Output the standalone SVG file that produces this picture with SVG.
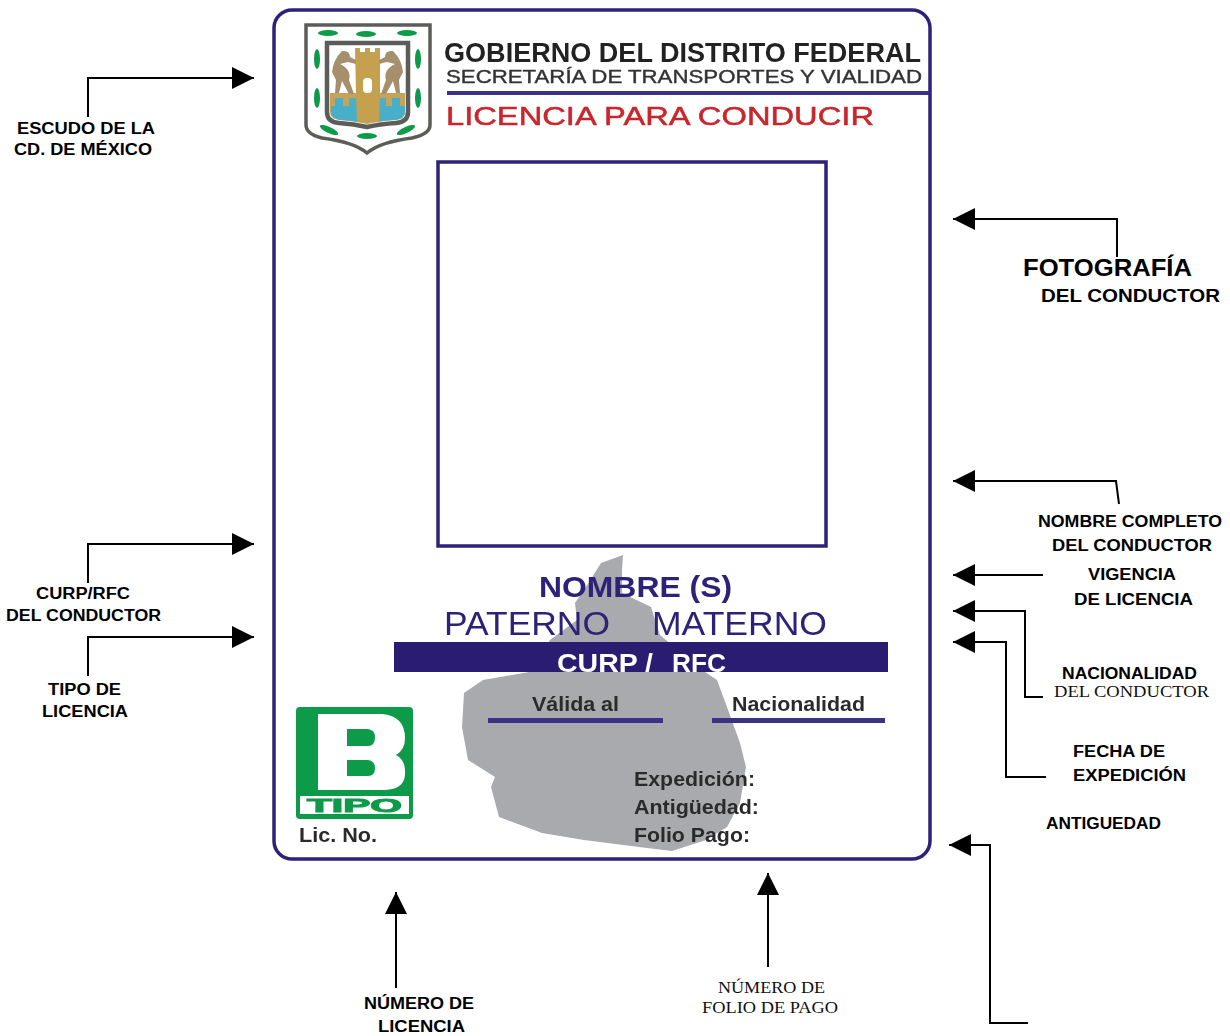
<svg xmlns="http://www.w3.org/2000/svg" width="1230" height="1036" viewBox="0 0 1230 1036">
<style>
.b{font-family:"Liberation Sans",Arial,sans-serif;font-weight:700;fill:#000;font-size:16px}
.s{font-family:"Liberation Serif","Times New Roman",serif;fill:#111;font-size:16px}
.c{stroke:#000;stroke-width:2;fill:none}
.n{fill:#2e2378;font-family:"Liberation Sans",Arial,sans-serif}
.k{fill:#2b2b2b;font-family:"Liberation Sans",Arial,sans-serif;font-weight:700;font-size:20px}
.g{fill:#0b9a4a}
.l{fill:#a58f6c}
</style>
<defs>
<marker id="a" markerUnits="userSpaceOnUse" markerWidth="24" markerHeight="24" refX="22" refY="12" orient="auto"><path d="M0 1L22 12L0 23Z" fill="#000"/></marker>
<filter id="bl" x="-2%" y="-2%" width="104%" height="104%"><feGaussianBlur stdDeviation="0.7"/></filter>
<clipPath id="cc"><rect x="394" y="642" width="494" height="30"/></clipPath>
</defs>
<rect width="1230" height="1036" fill="#fff"/>
<g id="card" filter="url(#bl)">
<path id="map" d="M623 555L601 563L586 587L575 603L577 620L550 640L529 672L483 680L464 693L462 727L468 760L495 777L491 787L499 817L542 833L584 840L639 847L672 851L706 840L727 827L740 803L746 767L740 743L727 707L717 680L702 670L660 635L651 607L622 593L622 570Z" fill="#a9aaad"/>
<rect x="274" y="10" width="656" height="849" rx="18" fill="none" stroke="#2e2378" stroke-width="3.5"/>
<g id="logo">
<path d="M306 25H430V125Q430 134 412 138Q380 142 367 153Q354 142 322 138Q306 134 306 125Z" fill="#fff" stroke="#5c5c58" stroke-width="3.5"/>
<path d="M327 43H408V112Q408 122 396 123Q380 124 367 127Q354 124 339 123Q327 122 327 112Z" fill="#fff" stroke="#5c5c58" stroke-width="4.500"/>
<path d="M330 93H405V112Q405 119 395 120Q380 121 367 124Q354 121 340 120Q330 119 330 112Z" fill="#c5a35a"/>
<path d="M331 106H335V98H343V106H349V98H358V122Q348 120 340 120Q331 118 331 112ZM377 98H386V106H392V98H400V106H405V112Q405 119 395 120Q385 120 377 122Z" fill="#46b0c8"/>
<path d="M355 48H360V52H365V48H370V52H375V48H380V93L379 122H357L356 93Z" fill="#c5a14f"/>
<rect x="363" y="78" width="9" height="15" rx="4" fill="#fff"/>
<path class="l" d="M342 51Q350 50 350 57L356 60V64L348 62L340 64Q352 70 349 80L354 94H349L342 81L339 93H335L336 80L332 72Q333 60 342 51Z"/>
<path class="l" d="M393 51Q385 50 385 57L379 60V64L387 62L395 64Q383 70 386 80L381 94H386L393 81L396 93H400L399 80L403 72Q402 60 393 51Z"/>
<g class="g">
<ellipse cx="328" cy="33" rx="10" ry="3"/><ellipse cx="366" cy="34" rx="10" ry="3"/><ellipse cx="407" cy="33" rx="10" ry="3"/>
<ellipse cx="317" cy="59" rx="3" ry="10"/><ellipse cx="418" cy="59" rx="3" ry="10"/><ellipse cx="317" cy="98" rx="3" ry="10"/><ellipse cx="418" cy="98" rx="3" ry="10"/>
<ellipse cx="329" cy="130" rx="10" ry="3" transform="rotate(25 329 130)"/><ellipse cx="367" cy="136" rx="10" ry="3"/><ellipse cx="406" cy="130" rx="10" ry="3" transform="rotate(-25 406 130)"/>
</g>
</g>
<text x="444" y="62" font-family="Liberation Sans,Arial,sans-serif" font-weight="700" font-size="27.500" textLength="477" lengthAdjust="spacingAndGlyphs" fill="#222">GOBIERNO DEL DISTRITO FEDERAL</text>
<text x="446" y="83" font-family="Liberation Sans,Arial,sans-serif" font-size="19" textLength="476" lengthAdjust="spacingAndGlyphs" fill="#333" stroke="#333" stroke-width=".4">SECRETARÍA DE TRANSPORTES Y VIALIDAD</text>
<rect x="447" y="91" width="482" height="4" fill="#3a3085"/>
<text x="446" y="125" font-family="Liberation Sans,Arial,sans-serif" font-size="26" textLength="428" lengthAdjust="spacingAndGlyphs" fill="#c8262c" stroke="#c8262c" stroke-width=".5">LICENCIA PARA CONDUCIR</text>
<rect id="photo" x="438" y="162" width="388" height="384" fill="none" stroke="#2e2378" stroke-width="3.500"/>
<text x="539" y="597" class="n" font-size="30" font-weight="700" textLength="193" lengthAdjust="spacingAndGlyphs">NOMBRE (S)</text>
<text x="444" y="635" class="n" font-size="34" textLength="166" lengthAdjust="spacingAndGlyphs">PATERNO</text>
<text x="652" y="635" class="n" font-size="34" textLength="175" lengthAdjust="spacingAndGlyphs">MATERNO</text>
<rect x="394" y="642" width="494" height="30" fill="#2b1f6f"/>
<g clip-path="url(#cc)"><text x="557" y="672" font-family="Liberation Sans,Arial,sans-serif" font-weight="700" font-size="25" fill="#fff" textLength="96" lengthAdjust="spacingAndGlyphs">CURP /</text><text x="672" y="672" font-family="Liberation Sans,Arial,sans-serif" font-weight="700" font-size="25" fill="#fff" textLength="54" lengthAdjust="spacingAndGlyphs">RFC</text></g>
<text x="532" y="711" class="k" textLength="87" lengthAdjust="spacingAndGlyphs">Válida al</text>
<text x="732" y="711" class="k" textLength="133" lengthAdjust="spacingAndGlyphs">Nacionalidad</text>
<rect x="488" y="718" width="175" height="5" fill="#3a3085"/>
<rect x="712" y="718" width="173" height="5" fill="#3a3085"/>
<text x="634" y="786" class="k" textLength="121" lengthAdjust="spacingAndGlyphs">Expedición:</text>
<text x="634" y="814" class="k" textLength="125" lengthAdjust="spacingAndGlyphs">Antigüedad:</text>
<text x="634" y="842" class="k" textLength="116" lengthAdjust="spacingAndGlyphs">Folio Pago:</text>
<g id="tipo">
<rect x="296" y="707" width="117" height="112" rx="4" fill="#0b9a4a"/>
<path d="M318 714H382Q405 716 405 738Q405 750 396 755Q406 760 405 775Q404 789 385 790H318Z" fill="#fff"/>
<path d="M347 729H368Q375 730 375 737Q375 746 368 746H347ZM347 760H368Q375 761 375 768Q375 776 368 776H347Z" fill="#0b9a4a"/>
<rect x="300" y="796" width="109" height="18" fill="#fff"/>
<text x="307" y="812" font-family="Liberation Sans,Arial,sans-serif" font-weight="700" font-size="18" textLength="95" lengthAdjust="spacingAndGlyphs" fill="#0b9a4a" stroke="#0b9a4a">TIPO</text>
</g>
<text x="299" y="842" class="k" textLength="78" lengthAdjust="spacingAndGlyphs">Lic. No.</text>
</g>
<g id="connectors">
<path class="c" d="M88 117V78H254" marker-end="url(#a)"/>
<path class="c" d="M1117 257V219H953" marker-end="url(#a)"/>
<path class="c" d="M1119 504L1116 481H953" marker-end="url(#a)"/>
<path class="c" d="M88 583V544H254" marker-end="url(#a)"/>
<path class="c" d="M88 676V637H254" marker-end="url(#a)"/>
<path class="c" d="M1043 575H953" marker-end="url(#a)"/>
<path class="c" d="M1043 697H1025V611H953" marker-end="url(#a)"/>
<path class="c" d="M1046 777H1006V642H953" marker-end="url(#a)"/>
<path class="c" d="M1028 1023H990V845H949" marker-end="url(#a)"/>
<path class="c" d="M396 988V892" marker-end="url(#a)"/>
<path class="c" d="M768 967V873" marker-end="url(#a)"/>
</g>
<g id="lbl-escudo"><text class="b" x="17" y="134" textLength="138" lengthAdjust="spacingAndGlyphs">ESCUDO DE LA</text><text class="b" x="14" y="155" textLength="138" lengthAdjust="spacingAndGlyphs">CD. DE MÉXICO</text></g>
<g id="lbl-foto"><text class="b" style="font-size:23px" x="1023" y="276" textLength="169" lengthAdjust="spacingAndGlyphs">FOTOGRAFÍA</text><text class="b" style="font-size:19px" x="1041" y="302" textLength="179" lengthAdjust="spacingAndGlyphs">DEL CONDUCTOR</text></g>
<g id="lbl-nombre"><text class="b" x="1038" y="527" textLength="184" lengthAdjust="spacingAndGlyphs">NOMBRE COMPLETO</text><text class="b" x="1052" y="551" textLength="160" lengthAdjust="spacingAndGlyphs">DEL CONDUCTOR</text></g>
<g id="lbl-curp"><text class="b" x="36" y="599" textLength="94" lengthAdjust="spacingAndGlyphs">CURP/RFC</text><text class="b" x="6" y="621" textLength="155" lengthAdjust="spacingAndGlyphs">DEL CONDUCTOR</text></g>
<g id="lbl-tipo"><text class="b" x="48" y="695" textLength="73" lengthAdjust="spacingAndGlyphs">TIPO DE</text><text class="b" x="42" y="717" textLength="86" lengthAdjust="spacingAndGlyphs">LICENCIA</text></g>
<g id="lbl-vigencia"><text class="b" x="1088" y="580" textLength="88" lengthAdjust="spacingAndGlyphs">VIGENCIA</text><text class="b" x="1074" y="605" textLength="119" lengthAdjust="spacingAndGlyphs">DE LICENCIA</text></g>
<g id="lbl-nac"><text class="b" x="1062" y="679" textLength="135" lengthAdjust="spacingAndGlyphs">NACIONALIDAD</text><text class="s" x="1054" y="697" textLength="155" lengthAdjust="spacingAndGlyphs">DEL CONDUCTOR</text></g>
<g id="lbl-fecha"><text class="b" x="1073" y="757" textLength="92" lengthAdjust="spacingAndGlyphs">FECHA DE</text><text class="b" x="1073" y="781" textLength="113" lengthAdjust="spacingAndGlyphs">EXPEDICIÓN</text></g>
<g id="lbl-ant"><text class="b" x="1046" y="829" textLength="115" lengthAdjust="spacingAndGlyphs">ANTIGUEDAD</text></g>
<g id="lbl-num"><text class="b" x="364" y="1009" textLength="110" lengthAdjust="spacingAndGlyphs">NÚMERO DE</text><text class="b" x="378" y="1032" textLength="87" lengthAdjust="spacingAndGlyphs">LICENCIA</text></g>
<g id="lbl-folio"><text class="s" x="718" y="993" textLength="107" lengthAdjust="spacingAndGlyphs">NÚMERO DE</text><text class="s" x="702" y="1013" textLength="136" lengthAdjust="spacingAndGlyphs">FOLIO DE PAGO</text></g>
</svg>
